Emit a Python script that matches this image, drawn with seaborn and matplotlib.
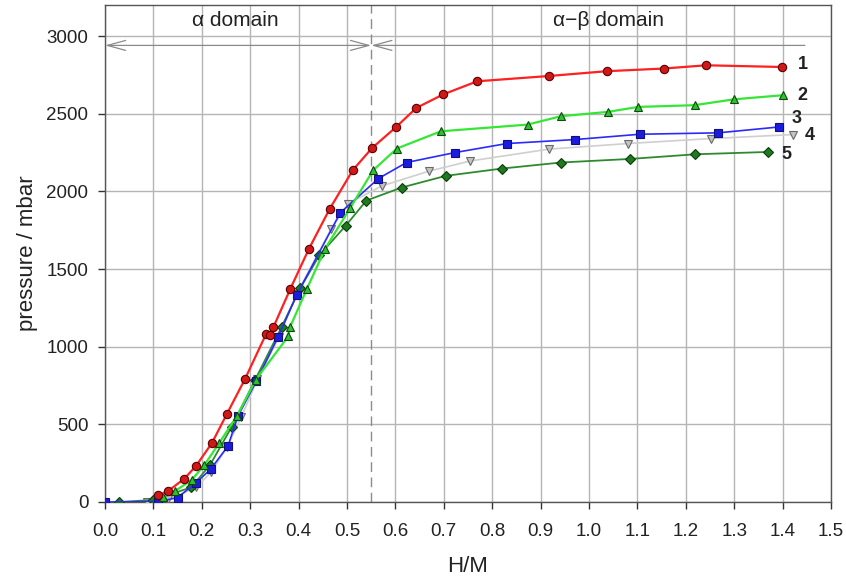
import numpy as np
import pandas as pd
import matplotlib
matplotlib.use("Agg")
import matplotlib.pyplot as plt
import seaborn as sns

# Pressure-composition isotherms (H/M vs. pressure), five runs
x1 = [0.110, 0.131, 0.164, 0.188, 0.221, 0.252, 0.289, 0.333, 0.341, 0.348, 0.383, 0.421,
      0.464, 0.512, 0.552, 0.601, 0.643, 0.699, 0.769, 0.917, 1.037, 1.154, 1.242, 1.399]
y1 = [42, 72, 150, 232, 380, 568, 790, 1083, 1078, 1126, 1373, 1628,
      1886, 2137, 2280, 2413, 2537, 2625, 2709, 2743, 2774, 2791, 2812, 2801]

x2 = [0.120, 0.145, 0.179, 0.205, 0.236, 0.273, 0.311, 0.379, 0.382, 0.417, 0.455,
      0.506, 0.554, 0.603, 0.694, 0.873, 0.942, 1.039, 1.102, 1.218, 1.300, 1.400]
y2 = [30, 71, 142, 236, 380, 555, 785, 1068, 1124, 1371, 1632,
      1890, 2136, 2276, 2387, 2430, 2484, 2512, 2544, 2555, 2593, 2619]

x3 = [0.000, 0.110, 0.150, 0.188, 0.218, 0.254, 0.275, 0.313, 0.358, 0.396,
      0.486, 0.565, 0.623, 0.723, 0.830, 0.972, 1.105, 1.267, 1.393]
y3 = [0, 2, 28, 124, 210, 360, 555, 780, 1065, 1332,
      1862, 2083, 2186, 2250, 2308, 2334, 2368, 2377, 2415]

x4 = [0.086, 0.131, 0.189, 0.220, 0.253, 0.282, 0.315, 0.360, 0.396, 0.467,
      0.503, 0.572, 0.669, 0.755, 0.917, 1.080, 1.251, 1.422]
y4 = [0, 17, 94, 195, 356, 549, 790, 1065, 1340, 1757,
      1922, 2035, 2130, 2196, 2272, 2308, 2340, 2366]

x5 = [0.029, 0.100, 0.178, 0.217, 0.262, 0.310, 0.365, 0.403, 0.443, 0.497,
      0.540, 0.613, 0.704, 0.820, 0.942, 1.085, 1.220, 1.370]
y5 = [0, 13, 94, 238, 485, 785, 1128, 1375, 1589, 1778,
      1941, 2025, 2100, 2147, 2186, 2209, 2239, 2254]

series_labels = ["1", "2", "3", "4", "5"]
label_pos = [(1.432, 2816), (1.430, 2619), (1.419, 2469), (1.445, 2362), (1.397, 2239)]

x_ticks = [round(0.1 * i, 1) for i in range(16)]
y_ticks = [0, 500, 1000, 1500, 2000, 2500, 3000]

sns.set_theme(style="whitegrid")
plt.rcParams["font.family"] = ["Liberation Sans", "DejaVu Sans"]

fig = plt.figure(figsize=(8.46, 5.78), dpi=100)
ax = fig.add_axes([0.1241, 0.1315, 0.8582, 0.8598])

styles = [
    dict(line="#ff2020", face="#d01818", edge="#5a0000", marker="o", ms=6, lw=1.6),
    dict(line="#35e635", face="#30c030", edge="#0a4a0a", marker="^", ms=6, lw=1.6),
    dict(line="#2a2aff", face="#1c1ce0", edge="#10107a", marker="s", ms=5.5, lw=1.2),
    dict(line="#cfcfcf", face="#c4c4c4", edge="#6a6a6a", marker="v", ms=6, lw=1.2),
    dict(line="#2f8a2f", face="#1f7a1f", edge="#0b3d0b", marker="D", ms=5, lw=1.3),
]
data = [(x1, y1), (x2, y2), (x3, y3), (x4, y4), (x5, y5)]

# draw the lighter curves first so the red one stays on top
order = [3, 4, 2, 1, 0]
for rank, i in enumerate(order):
    xs, ys = data[i]
    st = styles[i]
    df = pd.DataFrame({"H/M": xs, "p": ys})
    sns.lineplot(data=df, x="H/M", y="p", ax=ax, sort=False, estimator=None,
                 color=st["line"], lw=st["lw"], marker=st["marker"], markersize=st["ms"],
                 markerfacecolor=st["face"], markeredgecolor=st["edge"], markeredgewidth=0.8,
                 zorder=3 + rank)

for lab, (tx, ty) in zip(series_labels, label_pos):
    ax.text(tx, ty, lab, fontsize=13, fontweight="bold", color="#222222",
            ha="left", va="center", zorder=10)

ax.set_xlim(0, 1.5)
ax.set_ylim(0, 3200)
ax.set_xticks(x_ticks)
ax.set_xticklabels([f"{v:.1f}" for v in x_ticks])
ax.set_yticks(y_ticks)

ax.grid(True, color="#b5b5b5", lw=1.0)
ax.set_axisbelow(True)
for s in ax.spines.values():
    s.set_color("#555555")
    s.set_linewidth(1.0)

ax.tick_params(axis="both", which="major", direction="out", length=5, width=1,
               color="#333333", labelsize=13.5, labelcolor="#222222",
               bottom=True, left=True)
ax.tick_params(axis="x", pad=10)
ax.tick_params(axis="y", pad=7)

ax.set_xlabel("H/M", fontsize=16, color="#222222", labelpad=12)
ax.set_ylabel("pressure / mbar", fontsize=16, color="#222222", labelpad=6)

# phase boundary and domain markers
ax.axvline(0.55, color="#8c8c8c", lw=1.0, ls=(0, (7, 4)), zorder=2)
arrow_y = 2940
ax.annotate("", xy=(0.0, arrow_y), xytext=(0.55, arrow_y),
            arrowprops=dict(arrowstyle="<->,head_length=1.1,head_width=0.3",
                            color="#8a8a8a", lw=0.9, shrinkA=0, shrinkB=0))
ax.annotate("", xy=(0.55, arrow_y), xytext=(1.446, arrow_y),
            arrowprops=dict(arrowstyle="->,head_length=1.1,head_width=0.3",
                            color="#8a8a8a", lw=0.9, shrinkA=0, shrinkB=0))
ax.text(0.27, 3100, "α domain", fontsize=15, color="#222222", ha="center", va="center")
ax.text(1.04, 3100, "α−β domain", fontsize=15, color="#222222", ha="center", va="center")

fig.savefig("out.png", dpi=100)
